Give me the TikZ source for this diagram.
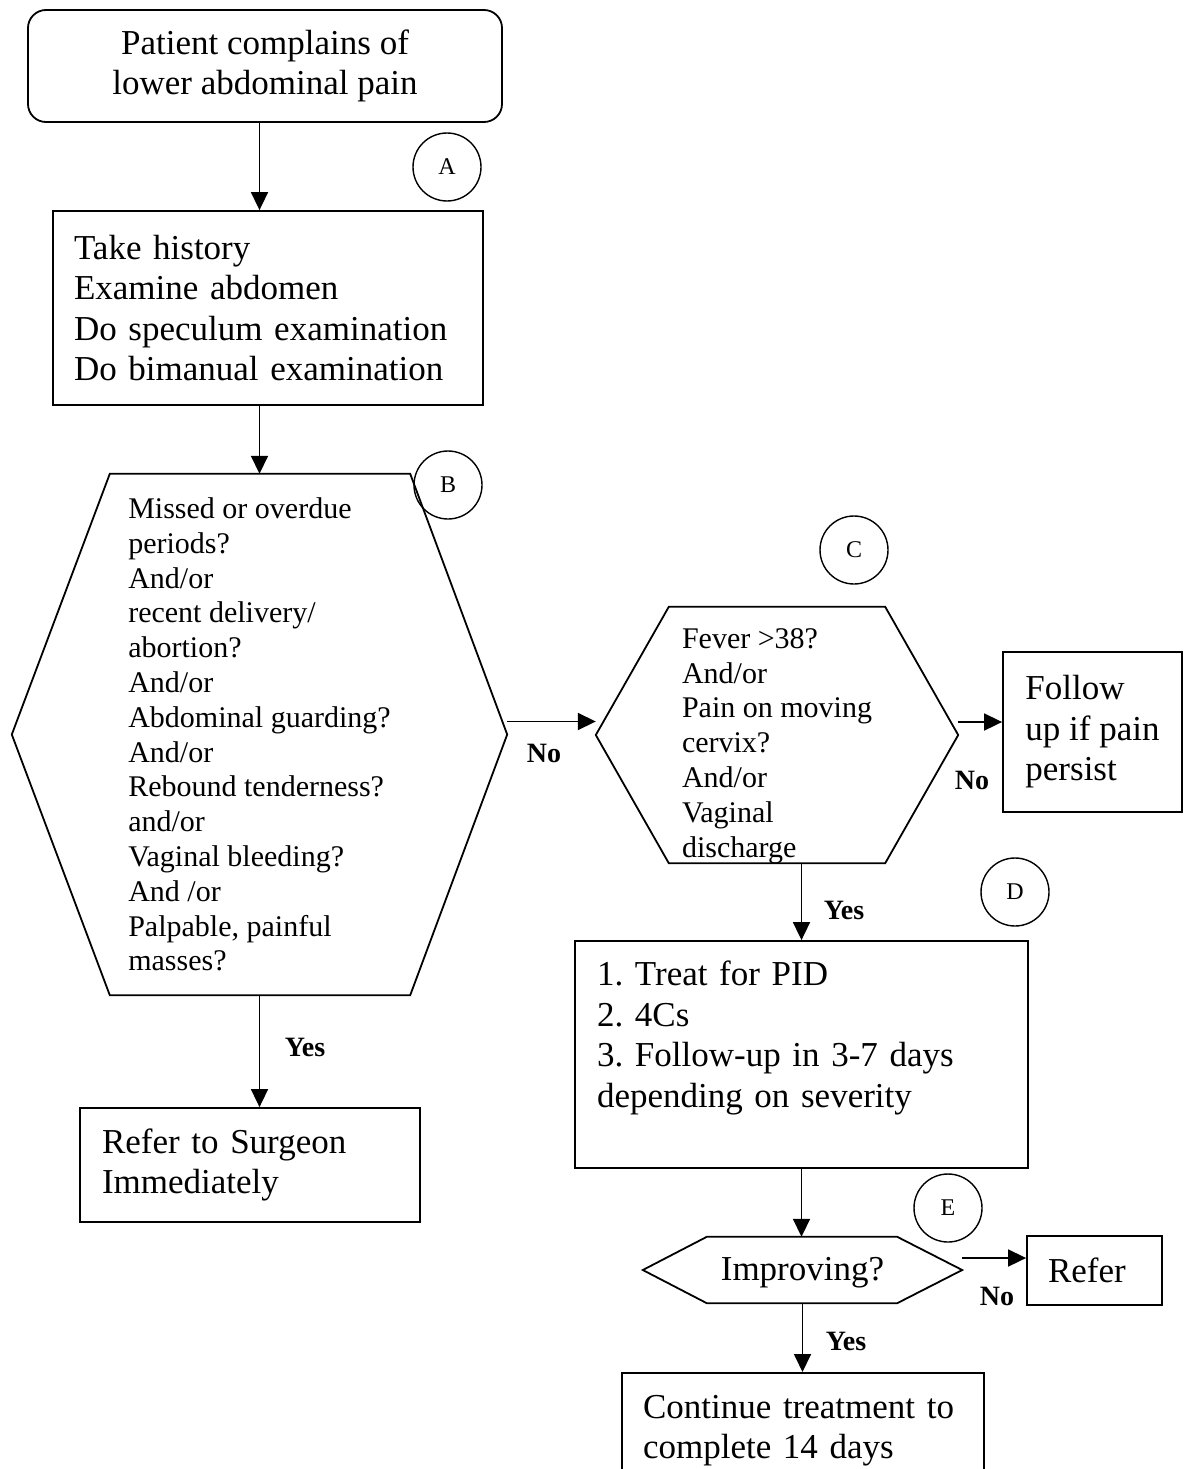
\documentclass[tikz,border=0pt]{standalone}
\usepackage{fontspec}
\setmainfont{Liberation Serif}
\usetikzlibrary{arrows.meta}
\frenchspacing

% Hexagon outline drawn round a sized (borderless) node:
% #1 node name, #2 left inset of the flat edges, #3 right inset.
\newcommand\hexoutline[3]{%
  \draw[outline] (#1.west) -- ([xshift=#2]#1.north west) -- ([xshift=-#3]#1.north east)
    -- (#1.east) -- ([xshift=-#3]#1.south east) -- ([xshift=#2]#1.south west) -- cycle;}

\tikzset{
  outline/.style={line width=1.8pt, line join=miter},
  arr/.style={line width=1.7pt, -{Triangle[length=18pt,width=17pt]}},
  big/.style={font=\fontsize{35}{40.5}\selectfont},
  small/.style={font=\fontsize{30}{34.8}\selectfont},
  box/.style={draw, line width=1.8pt, big, align=left, inner ysep=0pt},
  hexa/.style={small, align=left, inner sep=0pt},
  tag/.style={circle, draw, line width=1.4pt, minimum size=68pt, inner sep=0pt,
              font=\fontsize{24}{28}\selectfont},
  lbl/.style={font=\bfseries\fontsize{28}{32}\selectfont, inner sep=0pt},
}

\begin{document}
\begin{tikzpicture}[x=1pt, y=-1pt]
  \useasboundingbox (0,0) rectangle (1184,1469);
  \fill[white] (0,0) rectangle (1184,1469);
  \clip (0,0) rectangle (1184,1469);

  % ---- left column ----
  \node[box, align=center, rounded corners=18pt, minimum width=474pt, minimum height=112pt]
    (start) at (265,66) {Patient complains of\\lower abdominal pain};

  \node[box, text width=388pt, inner xsep=21pt, minimum height=194pt]
    (exam) at (268,308) {Take history\\Examine abdomen\\Do speculum examination\\Do bimanual examination};

  \node[hexa, minimum width=495pt, minimum height=521pt] (qB) at (259.5,734.5)
    {Missed or overdue\\periods?\\And/or\\recent delivery/\\abortion?\\And/or\\
     Abdominal guarding?\\And/or\\Rebound tenderness?\\and/or\\Vaginal bleeding?\\
     And /or\\Palpable, painful\\masses?};
  \hexoutline{qB}{98}{97}

  \node[box, text width=296pt, inner xsep=22pt, minimum height=114pt]
    (surgeon) at (250,1165) {Refer to Surgeon\\Immediately};

  % ---- right column ----
  \node[hexa, minimum width=362pt, minimum height=256pt] (qC) at (777,735) {};
  \hexoutline{qC}{73}{73}
  \node[hexa] (qCtext) at ([yshift=-11pt]qC.center)
    {Fever >38?\\And/or\\Pain on moving\\cervix?\\And/or\\Vaginal\\discharge};

  \node[box, minimum width=179pt, minimum height=160pt]
    (follow) at (1092.5,732) {Follow\\up if pain\\persist};

  \node[box, text width=409pt, inner xsep=22pt, minimum height=227pt]
    (treat) at (801.5,1054.5)
    {1. Treat for PID\\2. 4Cs\\3. Follow-up in 3-7 days\\depending on severity\\\mbox{}};

  \node[hexa, big, minimum width=319pt, minimum height=66pt] (improve) at (802.5,1270) {};
  \hexoutline{improve}{64}{65}
  \node[hexa, big] (improvetext) at ([yshift=-3pt]improve.center) {Improving?};

  \node[box, text width=93pt, inner xsep=21pt, minimum height=69pt]
    (refer) at (1094.5,1270.5) {Refer};

  \node[box, anchor=north, text width=320pt, inner xsep=21pt, minimum height=116pt]
    (cont) at (803,1372) {Continue treatment to\\complete 14 days};

  % ---- step markers ----
  \node[tag] (tagA) at (447,167) {A};
  \node[tag] (tagB) at (448,485) {B};
  \node[tag] (tagC) at (854,550) {C};
  \node[tag] (tagD) at (1015,892) {D};
  \node[tag] (tagE) at (948,1208) {E};

  % ---- connectors ----
  \draw[arr] (start.south -| qB.north) -- (exam.north -| qB.north);
  \draw[arr] (exam.south -| qB.north) -- (qB.north);
  \draw[arr] (qB.south) -- (surgeon.north -| qB.south);

  \coordinate (bc) at ([yshift=13pt]qB.east);
  \draw[arr] (bc) -- (bc -| qC.west);

  \coordinate (cf) at ([yshift=13pt]qC.east);
  \draw[arr] (cf) -- (cf -| follow.west);

  \draw[arr] (qC.south -| treat.north) -- (treat.north);
  \draw[arr] (treat.south) -- (improve.north -| treat.south);

  \coordinate (er) at ([yshift=12pt]improve.east);
  \draw[arr] (er) -- (er -| refer.west);

  \draw[arr] (improve.south) -- (cont.north -| improve.south);

  % ---- branch labels ----
  \node[lbl] (noB)  at (544,753)  {No};
  \node[lbl] (noC)  at (972,780)  {No};
  \node[lbl] (yesC) at (844,910)  {Yes};
  \node[lbl] (yesB) at (305,1047) {Yes};
  \node[lbl] (noE)  at (997,1296) {No};
  \node[lbl] (yesE) at (846,1341) {Yes};
\end{tikzpicture}
\end{document}
